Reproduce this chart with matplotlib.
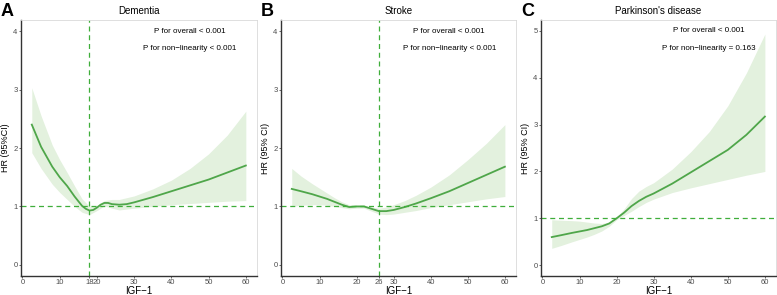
import numpy as np
import matplotlib.pyplot as plt

plt.rcParams['font.family'] = ['Liberation Sans', 'DejaVu Sans']

LINE_COL = "#4fa64a"
FILL_COL = "#e3f1de"
REF_COL = "#3fae3a"

# Dementia
dem_x = [2.5, 5, 8, 10, 12, 14, 16, 17, 18, 19, 20, 21, 22, 23, 24, 26, 28, 30, 35, 40, 45, 50, 55, 60]
dem_hr = [2.40, 2.02, 1.68, 1.50, 1.35, 1.17, 1.01, 0.96, 0.93, 0.94, 0.98, 1.03, 1.06, 1.06, 1.04,
          1.03, 1.04, 1.07, 1.16, 1.26, 1.36, 1.46, 1.58, 1.70]
dem_ci_x = [2.5, 5, 8, 10, 12, 14, 16, 18, 20, 22, 24, 26, 30, 35, 40, 45, 50, 55, 60]
dem_up = [3.03, 2.55, 2.05, 1.80, 1.58, 1.35, 1.13, 1.00, 1.02, 1.10, 1.12, 1.12, 1.18, 1.30, 1.45,
          1.65, 1.90, 2.22, 2.63]
dem_lo = [1.92, 1.65, 1.38, 1.24, 1.12, 1.00, 0.90, 0.86, 0.93, 1.01, 0.97, 0.94, 0.97, 1.00, 1.03,
          1.05, 1.07, 1.09, 1.10]

# Stroke
str_x = [2.5, 5, 8, 10, 12, 14, 16, 18, 20, 22, 24, 26, 28, 30, 33, 36, 40, 45, 50, 55, 60]
str_hr = [1.30, 1.26, 1.21, 1.17, 1.13, 1.08, 1.03, 0.99, 1.00, 1.00, 0.96, 0.92, 0.92, 0.94, 0.99,
          1.05, 1.14, 1.26, 1.40, 1.54, 1.68]
str_up = [1.65, 1.52, 1.39, 1.31, 1.23, 1.15, 1.08, 1.03, 1.02, 1.02, 0.99, 0.97, 0.99, 1.03, 1.10,
          1.19, 1.33, 1.54, 1.80, 2.08, 2.40]
str_lo = [1.00, 1.02, 1.03, 1.03, 1.02, 1.00, 0.98, 0.96, 0.97, 0.97, 0.92, 0.87, 0.86, 0.87, 0.90,
          0.93, 0.98, 1.03, 1.08, 1.13, 1.17]

# Parkinson's disease
pd_x = [2.5, 5, 8, 10, 12, 14, 16, 18, 20, 22, 24, 26, 28, 30, 35, 40, 45, 50, 55, 60]
pd_hr = [0.60, 0.64, 0.69, 0.72, 0.75, 0.79, 0.83, 0.89, 1.00, 1.12, 1.26, 1.37, 1.46, 1.53, 1.74,
         1.98, 2.22, 2.46, 2.78, 3.17]
pd_up = [0.97, 0.96, 0.95, 0.94, 0.92, 0.90, 0.89, 0.92, 1.03, 1.20, 1.42, 1.58, 1.68, 1.76, 2.05,
         2.42, 2.85, 3.40, 4.10, 4.93]
pd_lo = [0.36, 0.42, 0.50, 0.55, 0.60, 0.66, 0.73, 0.83, 0.97, 1.06, 1.15, 1.25, 1.34, 1.41, 1.55,
         1.65, 1.74, 1.83, 1.92, 2.00]

panels = [
    dict(letter="A", title="Dementia", x=dem_x, hr=dem_hr, ci_x=dem_ci_x, up=dem_up, lo=dem_lo,
         cut=18, xticks=[0, 10, 18, 20, 30, 40, 50, 60], yticks=[0, 1, 2, 3, 4], ylim=(-0.19, 4.19),
         ylabel="HR (95%CI)", p1="P for overall < 0.001", p2="P for non\u2212linearity < 0.001",
         py=(4.0, 3.7), left=21, right=257),
    dict(letter="B", title="Stroke", x=str_x, hr=str_hr, ci_x=str_x, up=str_up, lo=str_lo,
         cut=26, xticks=[0, 10, 20, 26, 30, 40, 50, 60], yticks=[0, 1, 2, 3, 4], ylim=(-0.19, 4.19),
         ylabel="HR (95% CI)", p1="P for overall < 0.001", p2="P for non\u2212linearity < 0.001",
         py=(4.0, 3.7), left=281, right=516),
    dict(letter="C", title="Parkinson's disease", x=pd_x, hr=pd_hr, ci_x=pd_x, up=pd_up, lo=pd_lo,
         cut=None, xticks=[0, 10, 20, 30, 40, 50, 60], yticks=[0, 1, 2, 3, 4, 5], ylim=(-0.23, 5.23),
         ylabel="HR (95% CI)", p1="P for overall < 0.001", p2="P for non\u2212linearity = 0.163",
         py=(5.0, 4.62), left=541, right=776),
]

W, H = 777, 295
fig = plt.figure(figsize=(W / 100, H / 100), dpi=100)

for p in panels:
    ax = fig.add_axes([p["left"] / W, (H - 276) / H, (p["right"] - p["left"]) / W, 256 / H])
    ax.fill_between(p["ci_x"], p["lo"], p["up"], color=FILL_COL, lw=0)
    ax.plot(p["x"], p["hr"], color=LINE_COL, lw=1.3)
    ax.axhline(1, color=REF_COL, lw=0.9, ls=(0, (4, 3)))
    if p["cut"] is not None:
        ax.axvline(p["cut"], color=REF_COL, lw=0.9, ls=(0, (4, 3)))
    ax.set_xlim(-0.4, 63)
    ax.set_ylim(*p["ylim"])
    ax.set_xticks(p["xticks"])
    ax.set_yticks(p["yticks"])
    ax.tick_params(labelsize=5.5, colors="#4d4d4d", length=1.5, width=0.6, pad=1)
    for s in ["top", "right"]:
        ax.spines[s].set_color("#d9d9d9")
        ax.spines[s].set_linewidth(0.6)
    for s in ["left", "bottom"]:
        ax.spines[s].set_color("#333333")
        ax.spines[s].set_linewidth(1.0)
    ax.set_xlabel("IGF\u22121", fontsize=7, labelpad=0)
    ax.set_ylabel(p["ylabel"], fontsize=6.5)
    ax.yaxis.set_label_coords(-11 / (p["right"] - p["left"]), 0.5)
    ax.set_title(p["title"], fontsize=7, pad=4)
    ax.text(45, p["py"][0], p["p1"], fontsize=5.8, ha="center", va="center")
    ax.text(45, p["py"][1], p["p2"], fontsize=5.8, ha="center", va="center")
    fig.text((p["left"] - 20) / W, (H - 11) / H, p["letter"], fontsize=13, fontweight="bold",
             ha="left", va="center")

fig.savefig("out.png", dpi=100)
